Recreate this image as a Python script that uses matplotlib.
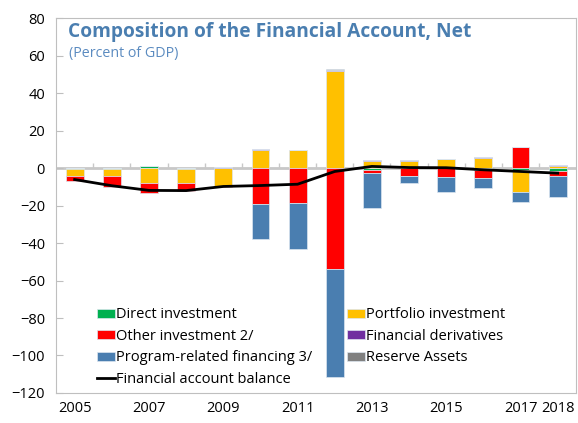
import numpy as np
import matplotlib.pyplot as plt

years = [str(y) for y in range(2005, 2019)]
direct = [-0.3, -0.5, 1.0, -0.6, 0.0, 0.0, 0.0, 0.0, -1.2, 0.0, 0.0, -1.2, -0.9, -1.6]
portfolio = [-3.9, -3.9, -7.8, -7.1, -9.5, 9.8, 9.4, 51.9, 3.6, 3.9, 4.6, 5.2, -12.1, 1.1]
other = [-2.7, -5.7, -5.3, -4.6, -0.5, -19.1, -18.5, -53.6, -1.4, -4.1, -4.8, -4.3, 11.0, -2.7]
derivatives = [0.0, 0.0, 0.0, 0.0, 0.4, 0.3, 0.5, 0.6, 0.5, 0.5, 0.5, 0.5, 0.5, 0.7]
program = [0.0, 0.0, 0.0, 0.0, 0.0, -19.0, -24.5, -57.8, -18.5, -3.7, -7.7, -5.0, -5.0, -11.1]
reserve = [0.0, 0.0, 0.0, 0.0, 0.3, 0.0, 0.0, 0.3, 0.0, 0.0, 0.0, 0.0, 0.0, 0.0]
balance = [-6.1, -9.4, -11.9, -12.0, -9.8, -9.3, -8.6, -1.8, 0.9, 0.3, 0.2, -0.9, -1.8, -2.7]
tick_years = ["2005", "2007", "2009", "2011", "2013", "2015", "2017", "2018"]

series = [
    ("Direct investment", direct, "#00b050"),
    ("Portfolio investment", portfolio, "#ffc000"),
    ("Other investment 2/", other, "#ff0000"),
    ("Financial derivatives", derivatives, "#7030a0"),
    ("Program-related financing 3/", program, "#4a7eb0"),
    ("Reserve Assets", reserve, "#808080"),
]

plt.rcParams['font.family'] = ['Open Sans', 'DejaVu Sans']
fig = plt.figure(figsize=(5.78, 4.23), dpi=100)
ax = fig.add_axes([0.097, 0.071, 0.9, 0.886])

x = np.arange(len(years))
pos_bottom = np.zeros(len(years))
neg_bottom = np.zeros(len(years))
handles = {}
for name, vals, color in series:
    v = np.array(vals)
    bottom = np.where(v >= 0, pos_bottom, neg_bottom)
    b = ax.bar(x, v, 0.48, bottom=bottom, color=color, edgecolor="#dce6f0",
               linewidth=0.5, label=name, zorder=2)
    handles[name] = b
    pos_bottom += np.where(v >= 0, v, 0)
    neg_bottom += np.where(v < 0, v, 0)

line, = ax.plot(x, balance, color="black", lw=2, label="Financial account balance", zorder=3)

# zero line with small ticks between categories
ax.axhline(0, color="#c8c8c8", lw=2, zorder=1)
ax.vlines(x[:-1] + 0.5, 0, 2.7, color="#c8c8c8", lw=1, zorder=1)

ax.set_xlim(-0.5, 13.5)
ax.set_ylim(-120, 80)
ax.set_yticks(range(-120, 81, 20))
ax.tick_params(axis="y", direction="in", length=5, color="#bfbfbf", labelsize=10.5, pad=8)
ax.set_xticks([years.index(t) for t in tick_years])
ax.set_xticklabels(tick_years)
ax.tick_params(axis="x", length=0, labelsize=10.5, pad=6)
for s in ax.spines.values():
    s.set_color("#bfbfbf")

ax.text(0.022, 0.963, "Composition of the Financial Account, Net", transform=ax.transAxes,
        fontsize=13.8, fontweight="bold", color="#4a7eb0", va="center")
ax.text(0.025, 0.907, "(Percent of GDP)", transform=ax.transAxes,
        fontsize=10.3, color="#5b8bc0", va="center")

hs = [handles["Direct investment"], handles["Other investment 2/"],
      handles["Program-related financing 3/"], line,
      handles["Portfolio investment"], handles["Financial derivatives"],
      handles["Reserve Assets"]]
ax.legend(hs, [h.get_label() for h in hs], ncol=2, frameon=False, fontsize=10.5,
          loc="lower left", bbox_to_anchor=(0.054, -0.019), handlelength=1.2,
          handleheight=0.55, handletextpad=0.1, labelspacing=0.45, columnspacing=2.4)

fig.savefig("out.png", dpi=100)
